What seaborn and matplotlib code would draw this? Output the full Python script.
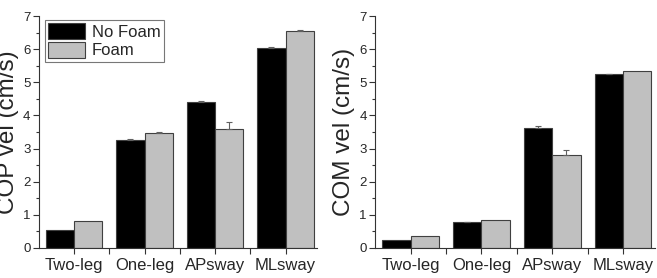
import matplotlib
matplotlib.use("Agg")
import matplotlib.pyplot as plt
import seaborn as sns
import pandas as pd
import numpy as np
from matplotlib.ticker import MultipleLocator, FixedLocator

categories = ["Two-leg", "One-leg", "APsway", "MLsway"]
conditions = ["No Foam", "Foam"]

cop_nofoam = [0.55, 3.25, 4.40, 6.03]
cop_foam = [0.80, 3.48, 3.60, 6.55]
cop_nofoam_err = [0.0, 0.03, 0.05, 0.03]
cop_foam_err = [0.0, 0.03, 0.19, 0.02]

com_nofoam = [0.23, 0.78, 3.62, 5.24]
com_foam = [0.35, 0.85, 2.80, 5.33]
com_nofoam_err = [0.0, 0.01, 0.06, 0.02]
com_foam_err = [0.0, 0.0, 0.17, 0.0]

ylabels = ["COP vel (cm/s)", "COM vel (cm/s)"]

sns.set_theme(style="ticks")
plt.rcParams["font.family"] = ["Liberation Sans", "DejaVu Sans"]

fig = plt.figure(figsize=(6.57, 2.78), dpi=100)
ax1 = fig.add_axes([0.059, 0.108, 0.424, 0.834])
ax2 = fig.add_axes([0.571, 0.108, 0.426, 0.834])

palette = {"No Foam": "#000000", "Foam": "#c0c0c0"}

def draw(ax, nf, f, nf_err, f_err, ylabel, legend):
    df = pd.DataFrame({
        "cat": categories * 2,
        "cond": ["No Foam"] * 4 + ["Foam"] * 4,
        "val": list(nf) + list(f),
        "err": list(nf_err) + list(f_err),
    })
    sns.barplot(data=df, x="cat", y="val", hue="cond", order=categories,
                hue_order=conditions, palette=palette, errorbar=None,
                edgecolor="#404040", linewidth=0.8, ax=ax, legend=legend,
                width=0.8)
    patches = [p for p in ax.patches if p.get_height() > 0]
    errs = list(nf_err) + list(f_err)
    for p, e in zip(patches, errs):
        if e > 0:
            xc = p.get_x() + p.get_width() / 2
            ax.errorbar(xc, p.get_height(), yerr=[[0], [e]], fmt="none",
                        ecolor="#606060", elinewidth=0.8, capsize=2.5,
                        capthick=0.8)
    ax.set_ylim(0, 7)
    ax.set_xlim(-0.5, 3.45)
    ax.set_xlabel("")
    ax.set_ylabel(ylabel, fontsize=17.5, labelpad=3)
    ax.yaxis.set_major_locator(MultipleLocator(1))
    ax.yaxis.set_minor_locator(MultipleLocator(0.5))
    ax.xaxis.set_minor_locator(FixedLocator([0.5, 1.5, 2.5]))
    ax.tick_params(axis="y", which="major", length=4, width=0.8,
                   labelsize=9.5, pad=2, color="#333333")
    ax.tick_params(axis="y", which="minor", length=2, width=0.8, color="#333333")
    ax.tick_params(axis="x", which="major", length=4, width=0.8,
                   labelsize=12, pad=3, color="#333333")
    ax.tick_params(axis="x", which="minor", length=4, width=0.8, color="#333333")
    for s in ["top", "right"]:
        ax.spines[s].set_visible(False)
    for s in ["left", "bottom"]:
        ax.spines[s].set_linewidth(0.8)
        ax.spines[s].set_color("#333333")
    if legend:
        leg = ax.legend(loc="upper left", bbox_to_anchor=(0.022, 0.985),
                        fontsize=12, frameon=True, fancybox=False,
                        handlelength=2.2, handleheight=1.15,
                        labelspacing=0.1, handletextpad=0.4,
                        borderpad=0.2, borderaxespad=0.0)
        leg.get_frame().set_edgecolor("#555555")
        leg.get_frame().set_linewidth(0.8)

draw(ax1, cop_nofoam, cop_foam, cop_nofoam_err, cop_foam_err, ylabels[0], True)
draw(ax2, com_nofoam, com_foam, com_nofoam_err, com_foam_err, ylabels[1], False)

fig.savefig("out.png", dpi=100)
